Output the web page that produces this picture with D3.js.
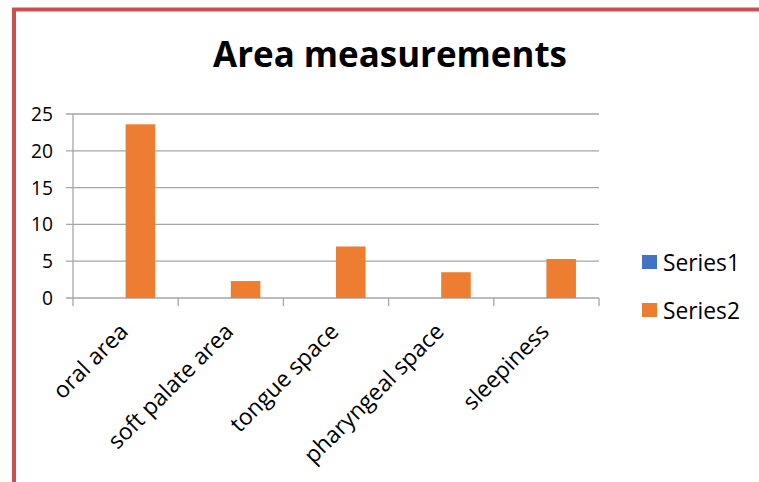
<!DOCTYPE html>
<html>
<head>
<meta charset="utf-8">
<script src="https://cdn.jsdelivr.net/npm/d3@7"></script>
<style>
  html, body { margin: 0; padding: 0; background: #fff; }
  svg { display: block; }
</style>
</head>
<body>
<svg id="chart" width="759" height="482"></svg>
<script>
// Chart data
const categories = ["oral area", "soft palate area", "tongue space", "pharyngeal space", "sleepiness"];
const seriesNames = ["Series1", "Series2"];
const series1 = [0, 0, 0, 0, 0];
const series2 = [23.6, 2.3, 7.0, 3.5, 5.3];
const yTicks = [0, 5, 10, 15, 20, 25];
const colors = ["#4472C4", "#ED7D31"];

const FONT = "'Open Sans', 'Noto Sans', sans-serif";
const svg = d3.select("#chart");

// Size a font so that a sample string spans a given width
function fitSize(sample, weight, width) {
  const t = svg.append("text")
    .attr("font-family", FONT)
    .attr("font-weight", weight)
    .attr("font-size", 100)
    .text(sample);
  const w = t.node().getComputedTextLength();
  t.remove();
  return 100 * width / w;
}
const titleSize = fitSize("Area measurements", "bold", 354);
const tickSize = fitSize("25", "normal", 22);
const legendSize = fitSize("Series1", "normal", 77);
const catSize = fitSize("soft palate area", "normal", 166);

// Frame border
svg.append("rect")
  .attr("x", 14).attr("y", 9.5)
  .attr("width", 800).attr("height", 500)
  .attr("fill", "none")
  .attr("stroke", "#C9504F")
  .attr("stroke-width", 4);

// Title
svg.append("text")
  .attr("x", 390).attr("y", 67)
  .attr("text-anchor", "middle")
  .attr("font-family", FONT)
  .attr("font-weight", "bold")
  .attr("font-size", titleSize)
  .attr("fill", "#000")
  .text("Area measurements");

const plot = { left: 73, right: 599, top: 114, bottom: 298 };

const x = d3.scaleBand()
  .domain(categories)
  .range([plot.left, plot.right])
  .paddingInner(0).paddingOuter(0);

const xs = d3.scaleBand()
  .domain(seriesNames)
  .range([0, x.bandwidth()])
  .paddingInner(0)
  .paddingOuter(0.78);

const y = d3.scaleLinear().domain([0, 25]).range([plot.bottom, plot.top]);

const gridColor = "#A6A6A6";

// Gridlines with left tick stubs
svg.append("g")
  .selectAll("line")
  .data(yTicks)
  .join("line")
  .attr("x1", plot.left - 7).attr("x2", plot.right)
  .attr("y1", d => y(d)).attr("y2", d => y(d))
  .attr("stroke", gridColor)
  .attr("stroke-width", 1.3);

// Y tick labels
svg.append("g")
  .selectAll("text")
  .data(yTicks)
  .join("text")
  .attr("x", 53)
  .attr("y", d => y(d))
  .attr("dy", "0.36em")
  .attr("text-anchor", "end")
  .attr("font-family", FONT)
  .attr("font-size", tickSize)
  .attr("fill", "#000")
  .text(d => d);

// Y axis line
svg.append("line")
  .attr("x1", plot.left).attr("x2", plot.left)
  .attr("y1", plot.top).attr("y2", plot.bottom)
  .attr("stroke", gridColor).attr("stroke-width", 1.3);

// X axis tick marks at band boundaries
const boundaries = categories.map(c => x(c)).concat([plot.right]);
svg.append("g")
  .selectAll("line")
  .data(boundaries)
  .join("line")
  .attr("x1", d => d).attr("x2", d => d)
  .attr("y1", plot.bottom).attr("y2", plot.bottom + 8)
  .attr("stroke", gridColor).attr("stroke-width", 1.3);

// Bars
const seriesData = [series1, series2];
seriesNames.forEach((name, si) => {
  svg.append("g")
    .selectAll("rect")
    .data(categories.map((c, i) => ({ c, v: seriesData[si][i] })))
    .join("rect")
    .attr("x", d => x(d.c) + xs(name))
    .attr("width", xs.bandwidth())
    .attr("y", d => y(d.v))
    .attr("height", d => y(0) - y(d.v))
    .attr("fill", colors[si]);
});

// Category labels, rotated
svg.append("g")
  .selectAll("text")
  .data(categories)
  .join("text")
  .attr("transform", d => `translate(${x(d) + x.bandwidth() / 2 + 4},${plot.bottom + 35}) rotate(-45)`)
  .attr("text-anchor", "end")
  .attr("font-family", FONT)
  .attr("font-size", catSize)
  .attr("fill", "#000")
  .text(d => d);

// Legend
const legend = svg.append("g");
seriesNames.forEach((name, i) => {
  const top = 255 + i * 48;
  legend.append("rect")
    .attr("x", 642).attr("y", top)
    .attr("width", 15).attr("height", 14)
    .attr("fill", colors[i]);
  legend.append("text")
    .attr("x", 663).attr("y", top + 16)
    .attr("font-family", FONT)
    .attr("font-size", legendSize)
    .attr("fill", "#000")
    .text(name);
});
</script>
</body>
</html>
